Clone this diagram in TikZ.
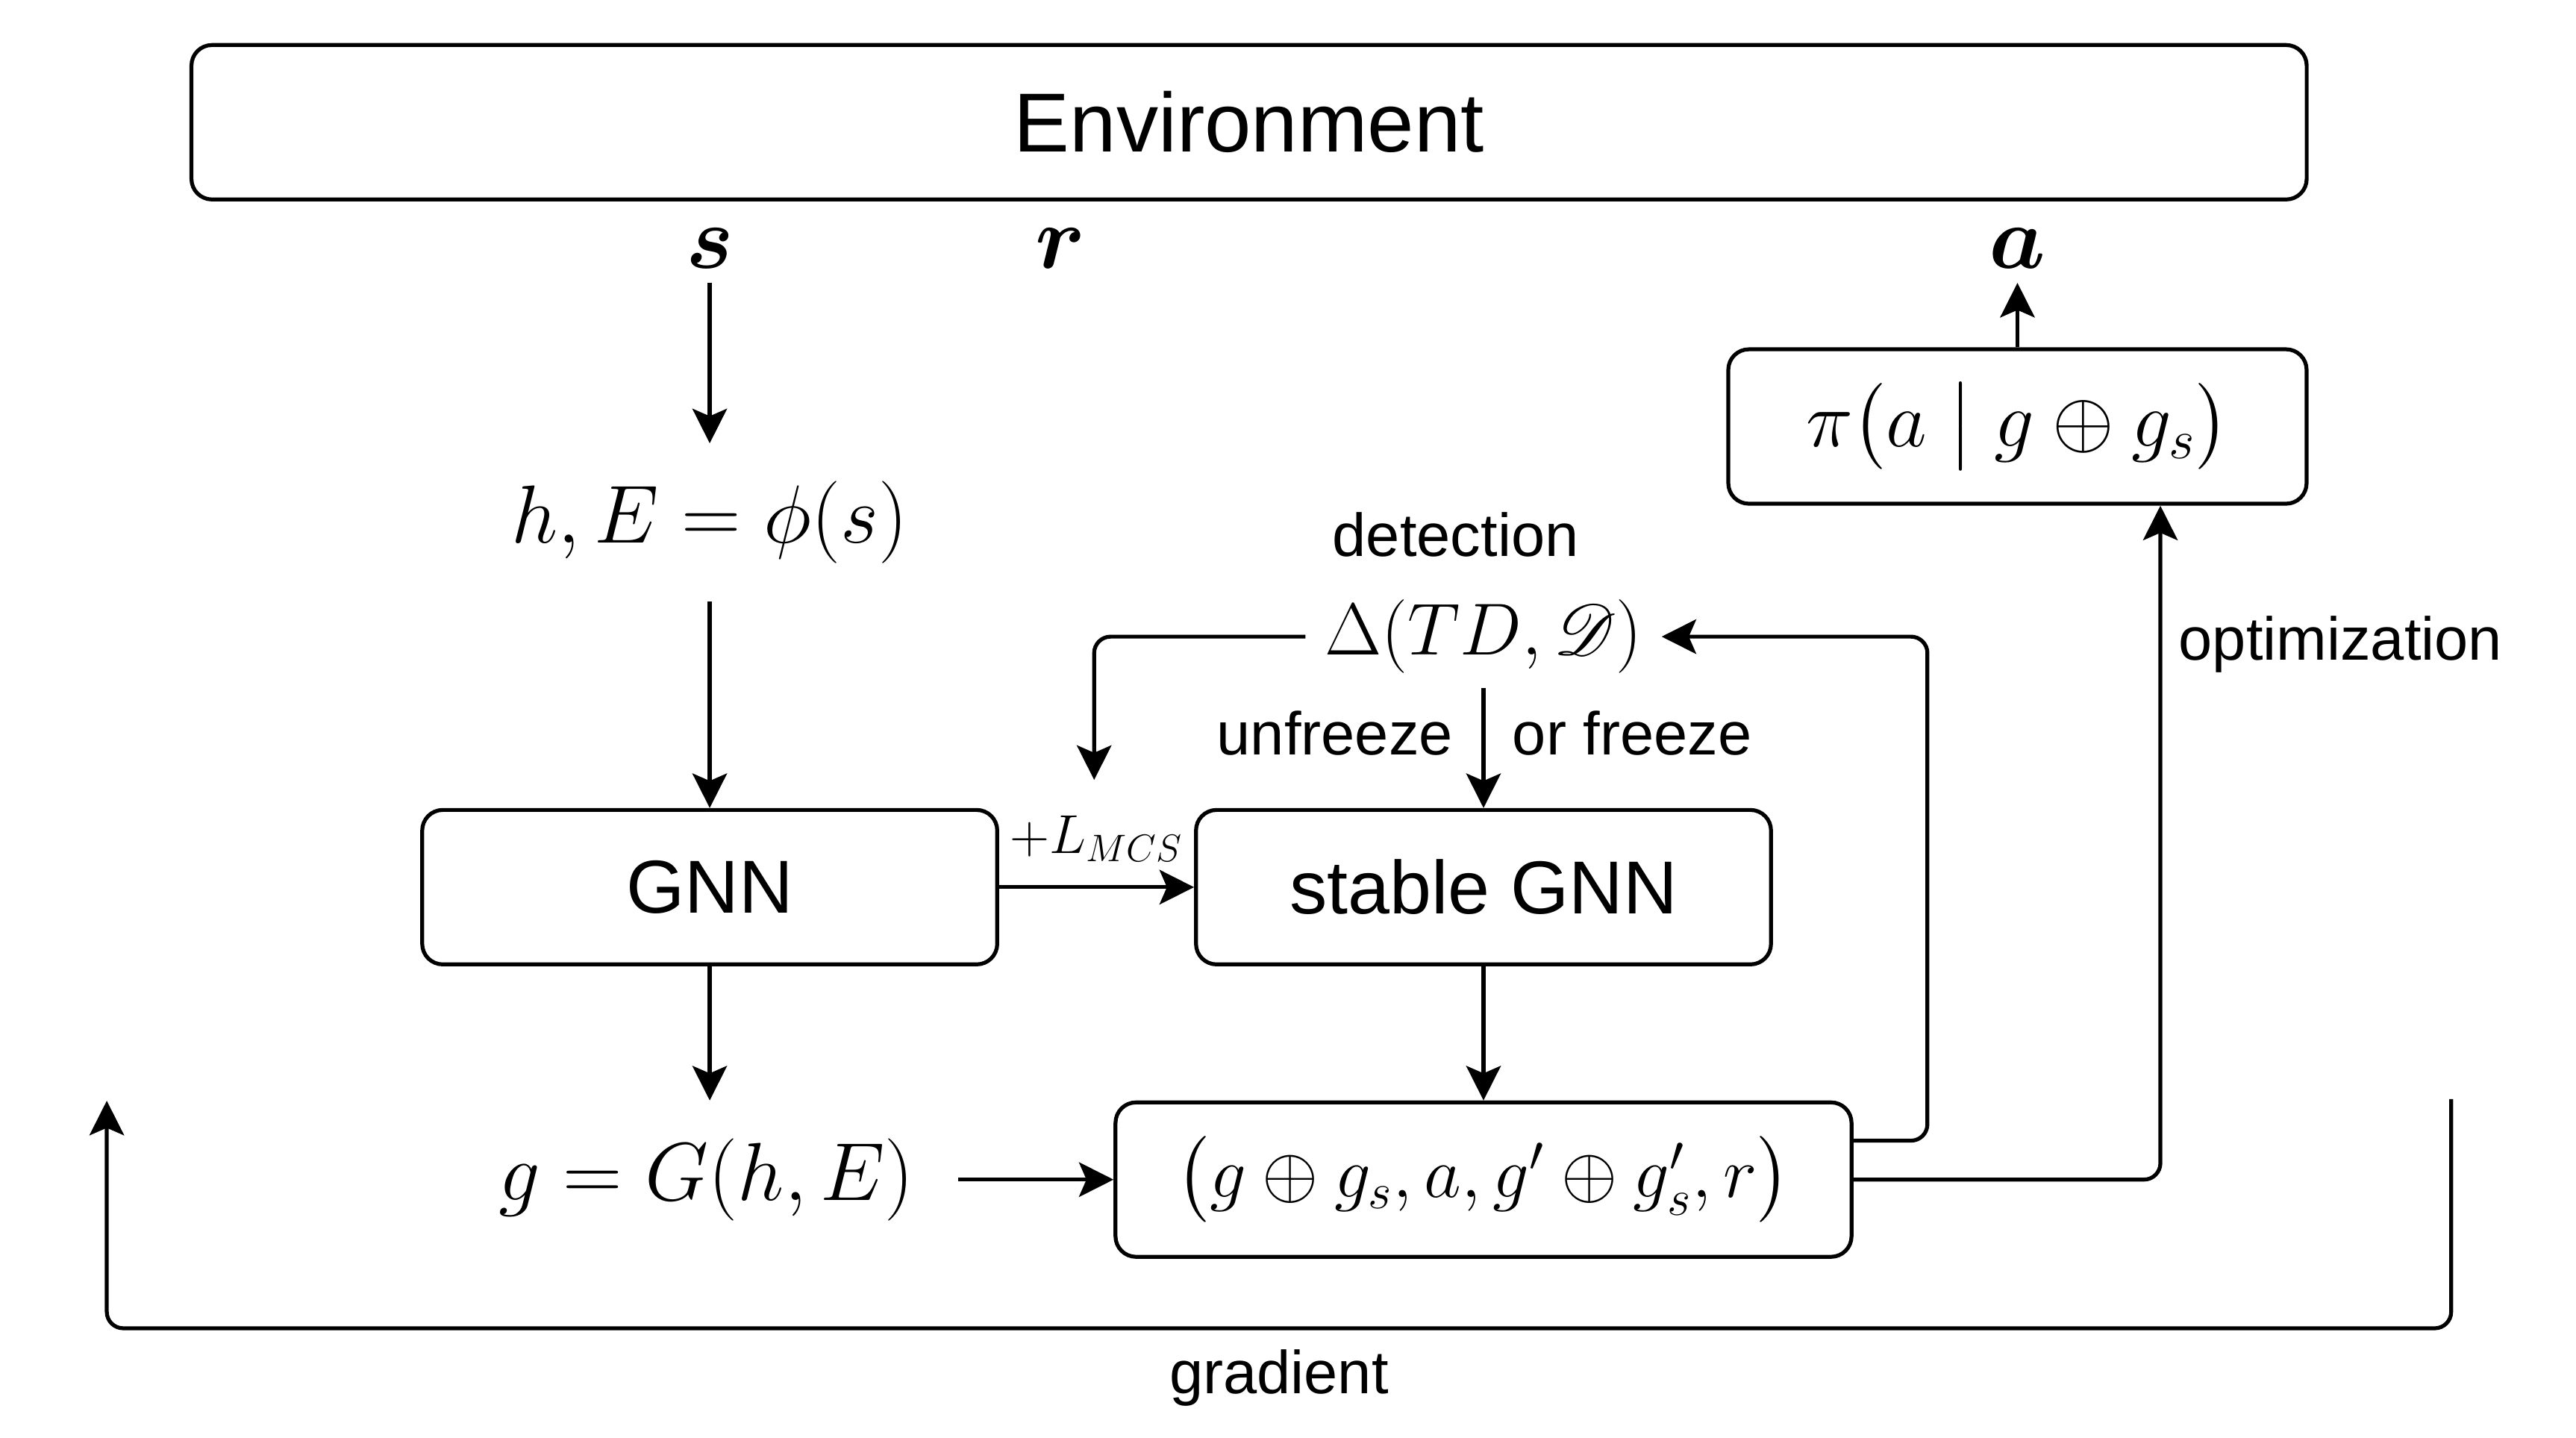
\RequirePackage{fix-cm}
\documentclass[tikz,border=0pt]{standalone}
\usepackage{amsmath}
\usepackage{mathrsfs}
\usepackage[no-math]{fontspec}
\newfontfamily\helv{Liberation Sans}
\usetikzlibrary{arrows.meta}

\begin{document}
\begin{tikzpicture}[x=0.2cm, y=0.2cm, line width=1.35pt]
\tikzstyle{every node}+=[inner sep=0pt]
\tikzstyle{box}=[draw, rounded corners=0.25cm, minimum height=1.88cm]
\tikzstyle{flow}=[-{Stealth[length=4.2mm, width=4.2mm, inset=0.9mm]}, rounded corners=0.2cm]
\tikzstyle{lbl}=[font=\helv\fontsize{21}{25}\selectfont]
\tikzstyle{big}=[font=\helv\fontsize{26}{31}\selectfont]
\useasboundingbox (0,0) rectangle (156.8,-87.5);
\draw (76.03,-7.44) node [box, minimum width=25.75cm, font=\helv\fontsize{29}{35}\selectfont] (env) {Environment};
\draw (43.2,-15.1) node [minimum height=0.79cm, font=\fontsize{31}{37}\selectfont] (s) {$\boldsymbol{s}$};
\draw (64.57,-15.1) node [font=\fontsize{31}{37}\selectfont] (r) {$\boldsymbol{r}$};
\draw (122.8,-15.1) node [minimum height=0.8cm, font=\fontsize{31}{37}\selectfont] (a) {$\boldsymbol{a}$};
\draw (122.8,-25.96) node [box, minimum width=7.04cm, font=\fontsize{27.5}{33}\selectfont] (pi) {$\pi\bigl(a \bigm| g \oplus g_s\bigr)$};
\draw (43.2,-31.8) node [minimum height=1.88cm, font=\fontsize{28.5}{34}\selectfont] (hE) {$h, E = \phi(s)$};
\draw (88.6,-33.84) node [lbl, anchor=base] (detect) {detection};
\draw (90.3,-38.75) node [minimum width=4.29cm, minimum height=1.2cm, font=\fontsize{25.5}{31}\selectfont] (delta) {$\Delta(TD, \mathscr{D})$};
\draw (43.2,-54.0) node [box, big, minimum width=7.0cm] (gnn) {GNN};
\draw (90.3,-54.0) node [box, big, minimum width=7.0cm] (stable) {stable GNN};
\draw (43.0,-71.8) node [minimum width=6.08cm, minimum height=1.88cm, font=\fontsize{28.5}{34}\selectfont] (gG) {$g = G(h, E)$};
\draw (90.3,-71.8) node [box, minimum width=8.96cm, font=\fontsize{25}{30}\selectfont] (tuple) {$\bigl(g \oplus g_s, a, g' \oplus g'_s, r\bigr)$};
\coordinate (lossin) at (66.6,-47.47);
\coordinate (gradR) at (149.2,-66.9);
\coordinate (gradL) at (6.5,-67.0);
\draw [flow] (s) -- (hE);
\draw [flow] (hE) -- (gnn);
\draw [flow] (gnn) -- (gnn |- gG.north);
\draw [flow] (gG) -- (tuple);
\draw [flow] (gnn) -- node [above=0.29cm, font=\fontsize{19}{23}\selectfont] {$+L_{MCS}$} (stable);
\draw [flow] (delta) -- node [lbl, pos=0.377, left=0.35cm] {unfreeze} node [lbl, pos=0.377, right=0.33cm] {or freeze} (stable);
\draw [flow] (stable) -- (tuple);
\draw [flow] (delta.west) -| (lossin);
\draw [flow] ([yshift=0.474cm]tuple.east) -- ++(4.5,0) |- (delta.east);
\draw [flow] (tuple.east) -| ([xshift=1.74cm]pi.south) node [lbl, pos=0.897, right=0.2cm] {optimization};
\draw [flow] (pi) -- (a);
\draw [flow] (gradR) -- ++(0,-13.95) -| (gradL) node [lbl, pos=0.25, below=0.24cm] {gradient};
\end{tikzpicture}
\end{document}
